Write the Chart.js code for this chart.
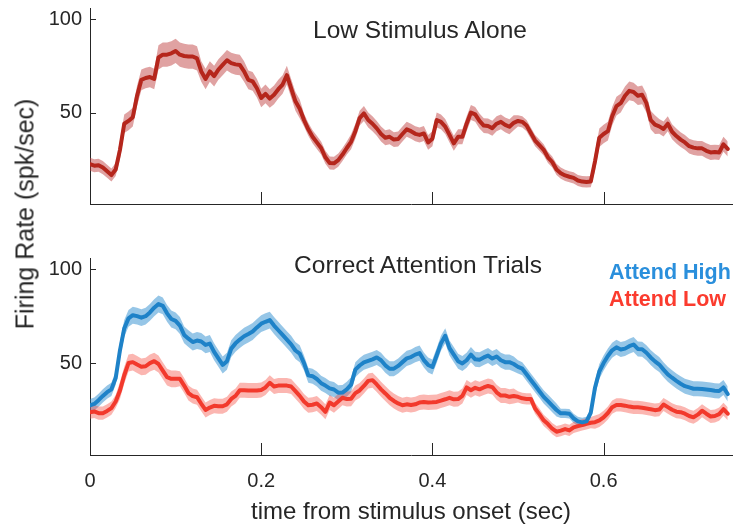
<!DOCTYPE html>
<html>
<head>
<meta charset="utf-8">
<script src="https://cdn.jsdelivr.net/npm/chart.js@4.4.1/dist/chart.umd.min.js"></script>
<style>
html, body { margin: 0; padding: 0; background: #fff; }
#wrap { position: relative; width: 735px; height: 530px; overflow: hidden; font-family: "Liberation Sans", Arial, sans-serif; color: #262626; }
.box { position: absolute; left: 0; width: 735px; }
.lbl { position: absolute; white-space: nowrap; line-height: 1; }
</style>
</head>
<body>
<div id="wrap">
  <div class="box" style="top:0;height:216px"><canvas id="topChart"></canvas></div>
  <div class="box" style="top:240px;height:290px"><canvas id="bottomChart"></canvas></div>
  <div class="lbl" style="left:420px;top:18px;font-size:24.5px;transform:translateX(-50%)">Low Stimulus Alone</div>
  <div class="lbl" style="left:418px;top:253px;font-size:24.5px;transform:translateX(-50%)">Correct Attention Trials</div>
  <div class="lbl" style="left:609px;top:262px;font-size:21.5px;font-weight:bold;color:#2a8fdc">Attend High</div>
  <div class="lbl" style="left:609px;top:289px;font-size:21.5px;font-weight:bold;color:#fb3b2e">Attend Low</div>
  <div class="lbl" style="left:25px;top:214px;font-size:25px;transform:translate(-50%,-50%) rotate(-90deg)">Firing Rate (spk/sec)</div>
</div>
<script>
// time bins (sec)
const timeSec = [
  0, 0.005, 0.01, 0.015, 0.02, 0.025, 0.03, 0.035, 0.04, 0.045,
  0.05, 0.055, 0.06, 0.065, 0.07, 0.075, 0.08, 0.085, 0.09, 0.095,
  0.1, 0.105, 0.11, 0.115, 0.12, 0.125, 0.13, 0.135, 0.14, 0.145,
  0.15, 0.155, 0.16, 0.165, 0.17, 0.175, 0.18, 0.185, 0.19, 0.195,
  0.2, 0.205, 0.21, 0.215, 0.22, 0.225, 0.23, 0.235, 0.24, 0.245,
  0.25, 0.255, 0.26, 0.265, 0.27, 0.275, 0.28, 0.285, 0.29, 0.295,
  0.3, 0.305, 0.31, 0.315, 0.32, 0.325, 0.33, 0.335, 0.34, 0.345,
  0.35, 0.355, 0.36, 0.365, 0.37, 0.375, 0.38, 0.385, 0.39, 0.395,
  0.4, 0.405, 0.41, 0.415, 0.42, 0.425, 0.43, 0.435, 0.44, 0.445,
  0.45, 0.455, 0.46, 0.465, 0.47, 0.475, 0.48, 0.485, 0.49, 0.495,
  0.5, 0.505, 0.51, 0.515, 0.52, 0.525, 0.53, 0.535, 0.54, 0.545,
  0.55, 0.555, 0.56, 0.565, 0.57, 0.575, 0.58, 0.585, 0.59, 0.595,
  0.6, 0.605, 0.61, 0.615, 0.62, 0.625, 0.63, 0.635, 0.64, 0.645,
  0.65, 0.655, 0.66, 0.665, 0.67, 0.675, 0.68, 0.685, 0.69, 0.695,
  0.7, 0.705, 0.71, 0.715, 0.72, 0.725, 0.73, 0.735, 0.74, 0.745
];

// top panel: low stimulus alone (spk/sec)
const aloneRate = [
  22.3, 21.5, 21.8, 20.5, 18.5, 16.5, 19.5, 30, 44, 45.5,
  47.5, 59, 67.5, 68.5, 69, 68, 79.5, 81, 81, 81.7,
  83, 81, 80.3, 80, 80, 79, 72, 68, 72, 69.5,
  73, 75.5, 78, 76.5, 75.8, 75.5, 72, 67.5, 66.7, 63,
  57.8, 60, 57.5, 59.5, 62.5, 65, 70, 63, 56, 52,
  46, 41, 37, 34, 31, 26, 23, 22.8, 24.5, 27.5,
  31, 34.3, 40, 47, 49.5, 46, 44, 41.5, 38.5, 36.5,
  37, 35.5, 35.8, 38.5, 41, 40, 38.6, 38, 38.8, 34,
  36, 46, 45, 42.5, 38, 33.5, 37, 37, 44, 50,
  49, 45.5, 43, 42.8, 41.6, 44, 45, 43.4, 42.4, 44.5,
  45.5, 45, 43, 39, 35, 32.5, 30, 26, 23.5, 19.5,
  17.5, 16.3, 15.6, 15, 13.6, 13, 12.8, 13, 24, 36.5,
  38.5, 40, 48, 53.4, 55, 59, 61.6, 61, 59, 59.5,
  55, 46, 43.5, 42.6, 41.2, 44, 39.7, 37.4, 35.5, 34,
  32, 31.2, 30.8, 30.8, 29.5, 28.6, 28.8, 28.6, 33, 30.5
];
const aloneSem = [
  3.5, 3.5, 3.5, 3.5, 3.5, 3.5, 3.5, 5, 5, 5,
  5, 5.5, 5.5, 5.5, 5.5, 5.5, 6.5, 6.5, 6.5, 6.5,
  6.5, 6.5, 6.5, 6.5, 6.5, 6.5, 5.5, 5.5, 5.5, 5.5,
  5.5, 5.5, 5.5, 5.5, 5.5, 5.5, 5.5, 5, 5, 5,
  5, 5, 5, 5, 5, 5, 5, 5, 5, 5,
  3.5, 3.5, 3.5, 3.5, 3.5, 3.5, 3.5, 3.5, 3.5, 3.5,
  3.5, 4, 4, 4, 4, 4, 4, 4, 4, 4,
  4, 4, 4, 4, 4, 4, 4, 4, 4, 4,
  4, 4, 4, 4, 4, 4, 4, 4, 4, 4,
  4, 4, 4, 4, 4, 4, 4, 4, 4, 4,
  3, 3, 3, 3, 3, 3, 3, 3, 3, 3,
  3, 3, 3, 3, 3, 3, 3, 3, 5, 5,
  5, 5, 5, 5, 5, 5, 5, 5, 5, 5,
  5, 5, 5, 4, 4, 4, 4, 4, 4, 4,
  4, 4, 4, 4, 4, 4, 4, 4, 4, 4
];

// bottom panel: attend high
const highRate = [
  27.4, 28.2, 30.2, 32.5, 34.5, 36, 42, 56.8, 68.5, 73.8,
  75.5, 75, 74.2, 75, 77, 79.5, 81.5, 80.5, 76.5, 73.5,
  72.5, 70, 65, 63, 61.2, 62, 61.5, 59.7, 60.4, 56,
  52.5, 49, 51, 57.7, 60.5, 62.5, 64.3, 65.5, 66.8, 69,
  71, 72, 72.9, 70, 67.5, 65, 62.5, 60, 56.7, 55,
  50, 43.5, 43, 41.5, 39.3, 38, 36.5, 35.9, 34.2, 34.3,
  36, 38.5, 46.5, 48.7, 50.4, 51.2, 52, 53, 51.5, 48.8,
  47, 47, 48.5, 50.5, 52.5, 53.2, 54.5, 55.3, 51.6, 49,
  47.9, 54, 60.5, 64.5, 58, 54.5, 51, 49.8, 51.5, 54.5,
  52, 51.8, 53, 54, 52.4, 53.5, 51.5, 50.5, 50.5, 49.5,
  48, 47, 44, 41, 38, 35, 32, 29.7, 27.3, 25,
  23.2, 23.2, 23, 20.5, 18.9, 18.4, 18.9, 23.5, 37, 45.5,
  50, 53.8, 56.8, 58.4, 57.2, 57.7, 59, 59.9, 57.5, 57.4,
  55.5, 53, 50.9, 49.2, 46.5, 44, 42.2, 40.5, 39, 37.7,
  37, 36.3, 36.3, 36.2, 35.9, 35.6, 35.3, 35.1, 37, 33.5
];
const highSem = [
  3.5, 3.5, 3.5, 3.5, 3.5, 3.5, 3.5, 4.5, 4.5, 4.5,
  4.5, 4.5, 4.5, 4.5, 4.5, 4.5, 4.5, 4.5, 4.5, 4.5,
  4.5, 4.5, 4.5, 4.5, 4.5, 4.5, 4.5, 4.5, 4.5, 4.5,
  4.5, 4.5, 4.5, 4.5, 4.5, 4.5, 4.5, 4.5, 4.5, 4.5,
  4.5, 4.5, 4.5, 4.5, 4.5, 4.5, 4.5, 4.5, 4.5, 4.5,
  4, 4, 4, 4, 4, 4, 4, 4, 4, 4,
  4, 4, 4, 4, 4, 4, 4, 4, 4, 4,
  4, 4, 4, 4, 4, 4, 4, 4, 4, 4,
  4, 4, 4, 4, 4, 4, 4, 4, 4, 4,
  4, 4, 4, 4, 4, 4, 4, 4, 4, 4,
  3.5, 3.5, 3.5, 3.5, 3.5, 3.5, 3.5, 3.5, 3.5, 3.5,
  2.5, 2.5, 2.5, 2.5, 2.5, 2.5, 2.5, 2.5, 4, 4,
  4, 4, 4, 4, 4, 4, 4, 4, 4, 4,
  4, 4, 4, 4, 4, 4, 4, 4, 4, 4,
  4, 4, 4, 4, 4, 4, 4, 4, 4, 4
];

// bottom panel: attend low
const lowRate = [
  23.8, 24.2, 23.3, 23.3, 24.5, 26, 29.5, 35.4, 43.5, 50,
  50.5, 49.2, 48, 48.3, 50, 51, 49.5, 46, 42.5, 41.6,
  41.6, 41.6, 38, 34, 32.4, 31.8, 28.3, 25, 26.3, 27.2,
  27, 27, 28, 30.9, 32.5, 35.5, 35.5, 35.4, 35.4, 35.4,
  35.7, 37, 39.5, 37.5, 38, 38, 38, 37.5, 35, 32.5,
  29.5, 27.5, 27.8, 28.5, 26.5, 24, 29, 27.5, 29.5, 31.5,
  30.8, 31, 34, 35.4, 37.8, 40.5, 40.9, 38.6, 36, 33.8,
  31.5, 29.8, 28.5, 27.5, 28, 27.6, 28, 29, 29.2, 29,
  29.1, 29.3, 30, 30.7, 31.5, 30.7, 30.8, 32.5, 37, 35.5,
  36.8, 36, 37, 37.8, 37.2, 34.4, 32.7, 32.7, 32, 32.4,
  32, 31.2, 30.9, 30.9, 25.8, 22.8, 19.5, 17.5, 15, 13.4,
  14, 14.8, 14.1, 15.7, 16.4, 17, 17.6, 18.2, 18.5, 19.4,
  21.1, 23.4, 26.5, 27.7, 27.7, 27.3, 26.8, 26.4, 26.4, 26.2,
  25.8, 25.4, 24.9, 25.2, 27.9, 26.5, 25.1, 24.1, 23.8, 23,
  21.8, 21.1, 22.5, 24.6, 23, 21.5, 21.8, 22.8, 25.4, 23
];
const lowSem = [
  3.5, 3.5, 3.5, 3.5, 3.5, 3.5, 3.5, 4.5, 4.5, 4.5,
  4.5, 4.5, 4.5, 4.5, 4.5, 4.5, 4.5, 4.5, 4.5, 4.5,
  4.5, 4, 4, 4, 4, 4, 4, 4, 4, 4,
  4, 4, 4, 4, 4, 4, 4, 4, 4, 4,
  4, 4, 4, 4, 4, 4, 4, 4, 4, 4,
  4, 4, 4, 4, 4, 4, 4, 4, 4, 4,
  4, 4, 4, 4, 4, 4, 4, 4, 4, 4,
  4, 4, 4, 4, 4, 4, 4, 4, 4, 4,
  4, 4, 4, 4, 4, 4, 4, 4, 4, 4,
  4, 4, 4, 4, 4, 4, 4, 4, 4, 4,
  3, 3, 3, 3, 3, 3, 3, 3, 3, 3,
  3, 3, 3, 3, 3, 3, 3, 3, 3.5, 3.5,
  3.5, 3.5, 3.5, 3.5, 3.5, 3.5, 3.5, 3.5, 3.5, 3.5,
  3.5, 3.5, 3.5, 3.5, 3.5, 3.5, 3.5, 3.5, 3.5, 3.5,
  3.5, 3.5, 3.5, 3.5, 3.5, 3.5, 3.5, 3.5, 3.5, 3.5
];

const xTickValues = [0, 0.2, 0.4, 0.6];
const yTickValues = [50, 100];

const axisColor = '#262626';
const tickFont = { family: '"Liberation Sans", Arial, sans-serif', size: 20 };

Chart.defaults.font.family = '"Liberation Sans", Arial, sans-serif';
Chart.defaults.animation = false;

const pts = vals => vals.map((v, i) => ({ x: timeSec[i], y: v }));

// shaded mean +/- sem band, then the mean line on top
function bandSets(vals, sem, fillColor) {
    return [
        { data: pts(vals.map((v, i) => v + sem[i])), borderWidth: 0, pointRadius: 0, fill: '+1', backgroundColor: fillColor, order: 5 },
        { data: pts(vals.map((v, i) => v - sem[i])), borderWidth: 0, pointRadius: 0, fill: false, order: 5 }
    ];
}
function lineSet(vals, color, order) {
    return { data: pts(vals), borderColor: color, borderWidth: 4, pointRadius: 0, fill: false,
             borderJoinStyle: 'round', borderCapStyle: 'round', order: order };
}

// MATLAB style ticks pointing into the plot
const innerTicks = {
    id: 'innerTicks',
    afterDraw(chart) {
        const { ctx, chartArea: a, scales: { x, y } } = chart;
        ctx.save();
        ctx.strokeStyle = axisColor;
        ctx.lineWidth = 1;
        xTickValues.forEach(v => {
            const px = Math.round(x.getPixelForValue(v)) + 0.5;
            ctx.beginPath(); ctx.moveTo(px, a.bottom); ctx.lineTo(px, a.bottom - 12); ctx.stroke();
        });
        yTickValues.forEach(v => {
            const py = Math.round(y.getPixelForValue(v)) + 0.5;
            ctx.beginPath(); ctx.moveTo(a.left, py); ctx.lineTo(a.left + 6, py); ctx.stroke();
        });
        ctx.restore();
    }
};

function makeOptions(showX, padTop) {
    return {
        responsive: true,
        maintainAspectRatio: false,
        layout: { padding: { top: padTop, right: 3, left: 0, bottom: 0 } },
        plugins: { legend: { display: false }, tooltip: { enabled: false }, filler: { drawTime: 'beforeDatasetsDraw' } },
        scales: {
            x: {
                type: 'linear', min: 0, max: 0.75,
                grid: { display: false, drawTicks: false },
                border: { display: true, color: axisColor, width: 1 },
                afterBuildTicks: s => { s.ticks = xTickValues.map(v => ({ value: v })); },
                ticks: { display: showX, padding: 14, color: axisColor, font: tickFont, maxRotation: 0, autoSkip: false,
                         callback: v => v === 0 ? '0' : v.toFixed(1) },
                title: { display: showX, text: 'time from stimulus onset (sec)', color: axisColor,
                         font: { family: '"Liberation Sans", Arial, sans-serif', size: 24 }, padding: { top: 0, bottom: 3 } },
                afterFit: s => { s.height = showX ? 75 : 12; s.paddingLeft = 0; s.paddingRight = 0; }
            },
            y: {
                min: 1, max: 106,
                grid: { display: false, drawTicks: false },
                border: { display: true, color: axisColor, width: 1 },
                afterBuildTicks: s => { s.ticks = yTickValues.map(v => ({ value: v })); },
                ticks: { padding: 8, color: axisColor, font: tickFont },
                afterFit: s => { s.width = 90; s.paddingTop = 0; s.paddingBottom = 0; }
            }
        }
    };
}

new Chart(document.getElementById('topChart'), {
    type: 'line',
    data: { datasets: [
        ...bandSets(aloneRate, aloneSem, 'rgba(190,60,60,0.48)'),
        lineSet(aloneRate, '#b5261c', 0)
    ] },
    options: makeOptions(false, 8),
    plugins: [innerTicks]
});

new Chart(document.getElementById('bottomChart'), {
    type: 'line',
    data: { datasets: [
        ...bandSets(lowRate, lowSem, 'rgba(245,80,70,0.42)'),
        ...bandSets(highRate, highSem, 'rgba(35,135,205,0.48)'),
        lineSet(lowRate, '#f2392c', 1),
        lineSet(highRate, '#1e82c8', 0)
    ] },
    options: makeOptions(true, 18),
    plugins: [innerTicks]
});
</script>
</body>
</html>
